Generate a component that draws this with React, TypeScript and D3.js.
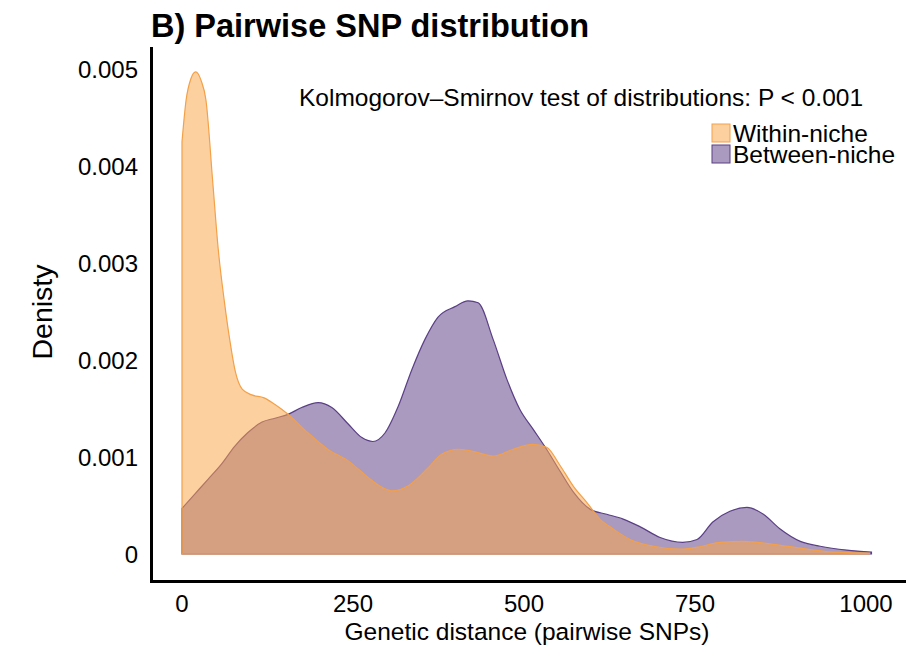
import React from 'react';
import * as d3 from 'd3';

// Pairwise SNP distance (x) and kernel density (y)
const withinSnps = [0, 6, 13, 20, 28, 35, 45, 53, 62, 70, 78, 88, 102, 120, 136, 155, 184, 213, 243, 272, 292, 308, 330, 360, 380, 404, 430, 455, 484, 513, 533, 553, 572, 592, 611, 630, 655, 689, 728, 753, 787, 820, 864, 904, 952, 1005];
const withinDensity = [0.00425, 0.00468, 0.0049, 0.00497, 0.00488, 0.00468, 0.00383, 0.00314, 0.0026, 0.0022, 0.00188, 0.0017, 0.00164, 0.00161, 0.00154, 0.00144, 0.00125, 0.00108, 0.00096, 0.00079, 0.00069, 0.00065, 0.0007, 0.00089, 0.00103, 0.00108, 0.00105, 0.00101, 0.00108, 0.00113, 0.0011, 0.00091, 0.0007, 0.00053, 0.00036, 0.00026, 0.00015, 0.00008, 0.00005, 0.00007, 0.00012, 0.00013, 0.0001, 0.00006, 0.00002, 0.00001];

const betweenSnps = [0, 19, 38, 58, 77, 96, 117, 136, 155, 175, 199, 219, 243, 263, 279, 297, 316, 336, 355, 374, 399, 418, 433, 455, 475, 494, 513, 533, 553, 572, 597, 621, 645, 670, 699, 732, 753, 776, 801, 826, 850, 874, 904, 933, 972, 1008];
const betweenDensity = [0.00047, 0.00062, 0.00077, 0.00093, 0.00111, 0.00125, 0.00136, 0.0014, 0.00144, 0.00151, 0.00156, 0.00151, 0.00134, 0.0012, 0.00116, 0.00125, 0.00152, 0.0019, 0.00221, 0.00244, 0.00255, 0.00261, 0.00259, 0.00221, 0.0018, 0.00149, 0.00129, 0.00108, 0.00085, 0.00064, 0.00046, 0.00041, 0.00036, 0.00028, 0.00017, 0.00012, 0.00015, 0.00033, 0.00044, 0.00048, 0.00041, 0.00026, 0.00013, 0.00008, 0.00004, 0.00002];

const xTicks = [0, 250, 500, 750, 1000];
const yTicks = [0, 0.001, 0.002, 0.003, 0.004, 0.005];
const legendLabels = ['Within-niche', 'Between-niche'];

const FONT = '"Liberation Sans", Arial, sans-serif';

export default function App() {
  const width = 912;
  const height = 645;

  const x = d3.scaleLinear().domain([0, 1000]).range([182, 866]);
  const y = d3.scaleLinear().domain([0, 0.005]).range([554, 69]);

  const area = d3.area<[number, number]>()
    .x(d => x(d[0]))
    .y0(y(0))
    .y1(d => y(d[1]))
    .curve(d3.curveMonotoneX);

  const withinPts = withinSnps.map((s, i) => [s, withinDensity[i]] as [number, number]);
  const betweenPts = betweenSnps.map((s, i) => [s, betweenDensity[i]] as [number, number]);

  const orangeFill = '#fba64c';
  const orangeLine = '#f3a048';
  const purpleFill = '#5f4086';
  const purpleLine = '#5a3f85';

  return (
    <svg width={width} height={height}
      style={{ position: 'absolute', left: 0, top: 0, display: 'block', background: 'white' }}>
      <text x={151} y={37} fontFamily={FONT} fontWeight="bold" fontSize={32.5}>B) Pairwise SNP distribution</text>

      {/* density areas, between first, within on top */}
      <path d={area(betweenPts) + 'Z'} fill={purpleFill} fillOpacity={0.53} stroke={purpleLine} strokeWidth={1.2} />
      <path d={area(withinPts) + 'Z'} fill={orangeFill} fillOpacity={0.53} stroke={orangeLine} strokeWidth={1.2} />

      {/* axes */}
      <line x1={151.5} x2={151.5} y1={47} y2={583} stroke="black" strokeWidth={3} />
      <line x1={150} x2={906} y1={581.5} y2={581.5} stroke="black" strokeWidth={3} />

      {yTicks.map(t => (
        <text key={t} x={138} y={y(t)} textAnchor="end" dominantBaseline="central" fontFamily={FONT} fontSize={24}>
          {t === 0 ? '0' : d3.format('.3f')(t)}
        </text>
      ))}
      {xTicks.map(t => (
        <text key={t} x={x(t)} y={603} textAnchor="middle" dominantBaseline="central" fontFamily={FONT} fontSize={24}>
          {t}
        </text>
      ))}

      <text x={527} y={631} textAnchor="middle" dominantBaseline="central" fontFamily={FONT} fontSize={24.5}>
        Genetic distance (pairwise SNPs)
      </text>
      <text transform="translate(42,312) rotate(-90)" textAnchor="middle" dominantBaseline="central" fontFamily={FONT} fontSize={28.5}>
        Denisty
      </text>

      <text x={581} y={97} textAnchor="middle" dominantBaseline="central" fontFamily={FONT} fontSize={24.5}>
        Kolmogorov–Smirnov test of distributions: P &lt; 0.001
      </text>

      {/* legend */}
      {legendLabels.map((lab, i) => (
        <g key={lab} transform={`translate(712,${124 + i * 21})`}>
          <rect x={0} y={0} width={18} height={18}
            fill={i === 0 ? orangeFill : purpleFill} fillOpacity={0.53}
            stroke={i === 0 ? orangeLine : purpleLine} strokeWidth={1} />
          <text x={21} y={9.5} dominantBaseline="central" fontFamily={FONT} fontSize={24.5}>{lab}</text>
        </g>
      ))}
    </svg>
  );
}
